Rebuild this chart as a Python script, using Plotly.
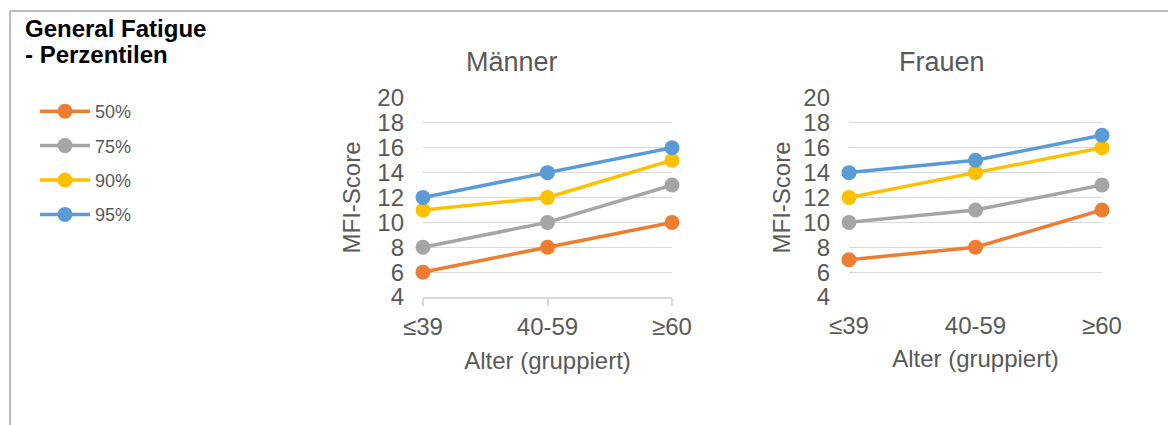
import plotly.graph_objects as go

age_groups = ["≤39", "40-59", "≥60"]
percentiles = ["50%", "75%", "90%", "95%"]

# MFI-Score (General Fatigue) per Altersgruppe
maenner_50 = [6, 8, 10]
maenner_75 = [8, 10, 13]
maenner_90 = [11, 12, 15]
maenner_95 = [12, 14, 16]

frauen_50 = [7, 8, 11]
frauen_75 = [10, 11, 13]
frauen_90 = [12, 14, 16]
frauen_95 = [14, 15, 17]

y_ticks = [4, 6, 8, 10, 12, 14, 16, 18, 20]

colors = ["#ED7D31", "#A5A5A5", "#FFC000", "#5B9BD5"]
# page body has an 8px margin, so the figure is drawn 8px smaller and offset
OFF = 8
W, H = 1176 - OFF, 425 - OFF
FONT = "Liberation Sans, Arial, sans-serif"
TXT = "#595959"


def px_x(x):
    return (x - OFF) / W


def px_y(y):
    return 1 - (y - OFF) / H


fig = go.Figure()

men = [maenner_50, maenner_75, maenner_90, maenner_95]
women = [frauen_50, frauen_75, frauen_90, frauen_95]

for i, p in enumerate(percentiles):
    fig.add_trace(go.Scatter(
        x=age_groups, y=men[i], name=p, legendgroup=p,
        mode="lines+markers", xaxis="x", yaxis="y",
        line=dict(color=colors[i], width=3.5),
        marker=dict(color=colors[i], size=15),
        cliponaxis=False,
    ))
    fig.add_trace(go.Scatter(
        x=age_groups, y=women[i], name=p, legendgroup=p, showlegend=False,
        mode="lines+markers", xaxis="x2", yaxis="y2",
        line=dict(color=colors[i], width=3.5),
        marker=dict(color=colors[i], size=15),
        cliponaxis=False,
    ))

y_dom = [px_y(297), px_y(98)]
axis_font = dict(size=24, color=TXT, family=FONT)
xaxis_common = dict(
    type="category", range=[0, 2], showgrid=False, zeroline=False,
    tickfont=axis_font,
)
yaxis_common = dict(
    range=[4, 20], tickvals=y_ticks, showgrid=True, gridcolor="#D9D9D9", gridwidth=1,
    zeroline=False, showline=False,
    tickfont=axis_font,
    ticklabelstandoff=18,
    domain=y_dom,
)

fig.update_layout(
    width=W, height=H,
    margin=dict(l=0, r=0, t=0, b=0, autoexpand=False),
    paper_bgcolor="white", plot_bgcolor="white",
    font=dict(family=FONT, color=TXT),
    xaxis=dict(xaxis_common, domain=[px_x(423), px_x(672)], anchor="y",
               showline=True, linecolor="#D9D9D9", linewidth=1.5,
               ticks="outside", ticklen=7, tickcolor="#D9D9D9", tickwidth=1.5,
               ticklabelstandoff=0,
               title=dict(text="Alter (gruppiert)", font=axis_font, standoff=14)),
    yaxis=dict(yaxis_common, anchor="x",
               title=dict(text="MFI-Score", font=axis_font, standoff=9)),
    xaxis2=dict(xaxis_common, domain=[px_x(849), px_x(1102)], anchor="y2",
                showline=False, ticks="", ticklabelstandoff=12,
                title=dict(text="Alter (gruppiert)", font=axis_font, standoff=12)),
    yaxis2=dict(yaxis_common, anchor="x2",
                title=dict(text="MFI-Score", font=axis_font, standoff=5)),
    showlegend=True,
    legend=dict(
        x=px_x(35), y=px_y(93), xanchor="left", yanchor="top",
        font=dict(size=18, color=TXT, family=FONT),
        itemwidth=50, tracegroupgap=8, bgcolor="rgba(0,0,0,0)",
    ),
)

# Titel
fig.add_annotation(text="<b>General Fatigue</b>", x=px_x(23), y=px_y(28), xref="paper", yref="paper",
                   xanchor="left", yanchor="middle", showarrow=False,
                   font=dict(size=24, color="black", family=FONT))
fig.add_annotation(text="<b>- Perzentilen</b>", x=px_x(23), y=px_y(55), xref="paper", yref="paper",
                   xanchor="left", yanchor="middle", showarrow=False,
                   font=dict(size=24, color="black", family=FONT))

for label, cx in [("Männer", 512), ("Frauen", 942)]:
    fig.add_annotation(text=label, x=px_x(cx), y=px_y(62), xref="paper", yref="paper",
                       xanchor="center", yanchor="middle", showarrow=False,
                       font=dict(size=27, color=TXT, family=FONT))

# Rahmen
fig.add_shape(type="line", xref="paper", yref="paper", x0=px_x(10), x1=1, y0=px_y(11), y1=px_y(11),
              line=dict(color="#A6A6A6", width=1.5))
fig.add_shape(type="line", xref="paper", yref="paper", x0=px_x(10), x1=px_x(10), y0=px_y(11), y1=0,
              line=dict(color="#A6A6A6", width=1.5))

fig.write_html("out.html")
